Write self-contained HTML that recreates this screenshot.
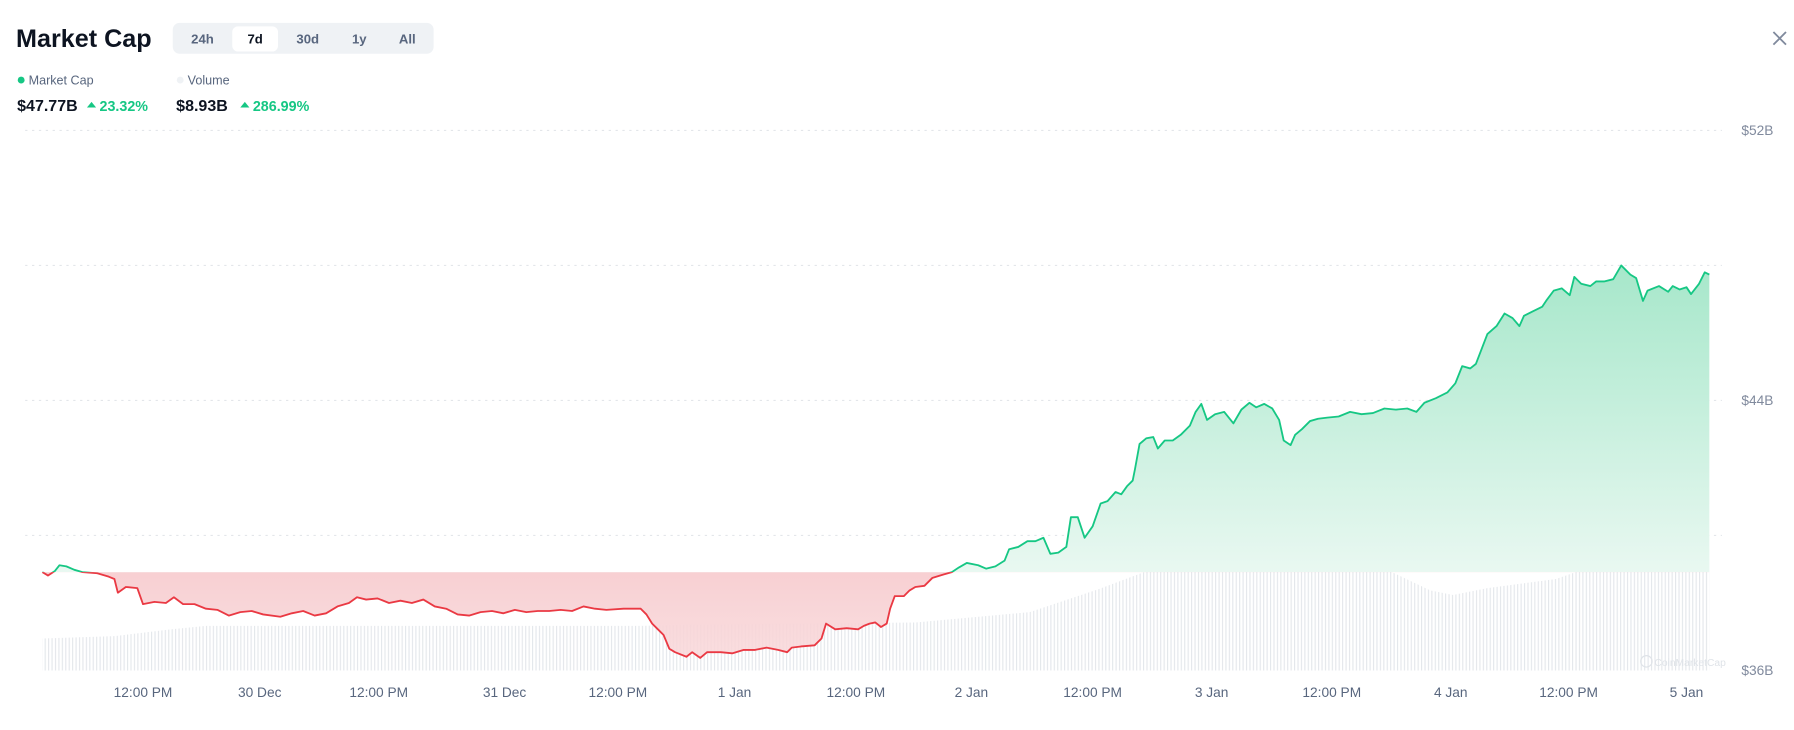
<!DOCTYPE html>
<html><head><meta charset="utf-8"><style>
html,body{margin:0;padding:0;background:#fff;width:1794px;height:730px;overflow:hidden}
svg{display:block}
text{font-family:"Liberation Sans",Arial,sans-serif}
</style></head><body>
<svg width="1794" height="730" viewBox="0 0 1568 638" preserveAspectRatio="none" xmlns="http://www.w3.org/2000/svg" xmlns:xlink="http://www.w3.org/1999/xlink">
<defs>
<linearGradient id="gg" x1="0" y1="230" x2="0" y2="500" gradientUnits="userSpaceOnUse">
<stop offset="0" stop-color="#a6e7ca"/><stop offset="1" stop-color="#e9f8f1"/></linearGradient>
<linearGradient id="rg" x1="0" y1="500" x2="0" y2="580" gradientUnits="userSpaceOnUse">
<stop offset="0" stop-color="#f7cdd0" stop-opacity="0.95"/><stop offset="1" stop-color="#f9d9db" stop-opacity="0.85"/></linearGradient>
<pattern id="bars" width="3" height="10" patternUnits="userSpaceOnUse"><rect x="0" y="0" width="1" height="10" fill="#e4e7eb"/></pattern>
<clipPath id="above"><rect x="0" y="0" width="1568" height="500"/></clipPath>
<clipPath id="below"><rect x="0" y="500" width="1568" height="200"/></clipPath>
<path id="ar" d="M37 500 L37,500 42,503 48,499 52,494 58,495 65,498 72,500 85,501 95,504 100,506 103,518 110,513 120,514 125,528 135,526 145,527 152,522 160,528 170,528 180,532 190,533 200,538 210,535 220,534 230,537 245,539 255,536 265,534 275,538 285,536 295,530 305,527 312,522 320,524 330,523 340,527 350,525 360,527 370,524 380,530 390,532 400,537 410,538 420,535 430,534 440,536 450,533 460,535 470,534 480,534 490,533 500,534 510,530 520,532 530,533 545,532 560,532 565,537 570,545 575,550 580,555 585,567 590,570 600,574 605,570 612,575 618,570 630,570 640,571 650,568 660,568 670,566 680,568 688,570 692,566 700,565 712,564 718,558 722,545 730,550 740,549 750,550 755,547 760,545 765,544 770,548 775,545 778,532 782,521 790,521 795,516 800,513 808,512 815,505 825,502 832,500 838,496 845,492 855,494 862,497 870,495 878,490 882,480 890,478 898,473 905,473 912,470 918,484 925,483 932,478 936,452 942,452 948,470 955,460 962,440 968,438 975,430 980,432 985,425 990,420 992,410 996,388 1002,383 1008,382 1012,392 1018,385 1025,385 1032,380 1040,372 1045,360 1050,353 1055,367 1062,362 1070,360 1078,370 1085,358 1092,352 1098,356 1105,353 1112,357 1118,367 1122,385 1128,389 1132,380 1138,375 1145,368 1152,366 1160,365 1170,364 1180,360 1190,362 1200,361 1210,357 1220,358 1230,357 1238,360 1245,352 1255,348 1265,343 1272,335 1278,320 1285,322 1290,318 1295,305 1300,292 1308,285 1315,274 1322,278 1328,285 1332,276 1340,272 1348,268 1352,262 1358,254 1365,252 1372,258 1376,242 1382,248 1390,250 1395,246 1402,246 1410,244 1417,232 1425,240 1430,243 1436,263 1440,254 1450,250 1458,255 1462,250 1468,253 1474,251 1478,257 1485,248 1490,238 1494,240 L1494 500Z"/>
<path id="ln" d="M37,500 42,503 48,499 52,494 58,495 65,498 72,500 85,501 95,504 100,506 103,518 110,513 120,514 125,528 135,526 145,527 152,522 160,528 170,528 180,532 190,533 200,538 210,535 220,534 230,537 245,539 255,536 265,534 275,538 285,536 295,530 305,527 312,522 320,524 330,523 340,527 350,525 360,527 370,524 380,530 390,532 400,537 410,538 420,535 430,534 440,536 450,533 460,535 470,534 480,534 490,533 500,534 510,530 520,532 530,533 545,532 560,532 565,537 570,545 575,550 580,555 585,567 590,570 600,574 605,570 612,575 618,570 630,570 640,571 650,568 660,568 670,566 680,568 688,570 692,566 700,565 712,564 718,558 722,545 730,550 740,549 750,550 755,547 760,545 765,544 770,548 775,545 778,532 782,521 790,521 795,516 800,513 808,512 815,505 825,502 832,500 838,496 845,492 855,494 862,497 870,495 878,490 882,480 890,478 898,473 905,473 912,470 918,484 925,483 932,478 936,452 942,452 948,470 955,460 962,440 968,438 975,430 980,432 985,425 990,420 992,410 996,388 1002,383 1008,382 1012,392 1018,385 1025,385 1032,380 1040,372 1045,360 1050,353 1055,367 1062,362 1070,360 1078,370 1085,358 1092,352 1098,356 1105,353 1112,357 1118,367 1122,385 1128,389 1132,380 1138,375 1145,368 1152,366 1160,365 1170,364 1180,360 1190,362 1200,361 1210,357 1220,358 1230,357 1238,360 1245,352 1255,348 1265,343 1272,335 1278,320 1285,322 1290,318 1295,305 1300,292 1308,285 1315,274 1322,278 1328,285 1332,276 1340,272 1348,268 1352,262 1358,254 1365,252 1372,258 1376,242 1382,248 1390,250 1395,246 1402,246 1410,244 1417,232 1425,240 1430,243 1436,263 1440,254 1450,250 1458,255 1462,250 1468,253 1474,251 1478,257 1485,248 1490,238 1494,240" fill="none" stroke-width="1.6" stroke-linejoin="round"/>
</defs>
<text x="14" y="41" font-size="22" font-weight="700" fill="#0d1421">Market Cap</text>
<rect x="151" y="20" width="228" height="27" rx="6" fill="#eff2f5"/>
<rect x="203" y="23" width="40" height="22" rx="5" fill="#fff"/>
<g font-size="11.5" font-weight="700" fill="#58667e" text-anchor="middle">
<text x="177" y="38">24h</text><text x="223" y="38" fill="#0d1421">7d</text><text x="269" y="38">30d</text><text x="314" y="38">1y</text><text x="356" y="38">All</text></g>
<path d="M1550 28 L1561 39 M1561 28 L1550 39" stroke="#808a9d" stroke-width="1.6"/>
<circle cx="18.5" cy="70" r="3" fill="#16c784"/>
<text x="25" y="74" font-size="11" fill="#58667e">Market Cap</text>
<circle cx="157.5" cy="70" r="3" fill="#eff2f5"/>
<text x="164" y="74" font-size="11" fill="#58667e">Volume</text>
<text x="15" y="97" font-size="14" font-weight="700" fill="#0d1421">$47.77B</text>
<path d="M76 94 L80 89 L84 94Z" fill="#16c784"/>
<text x="87" y="97" font-size="12.5" font-weight="700" fill="#16c784">23.32%</text>
<text x="154" y="97" font-size="14" font-weight="700" fill="#0d1421">$8.93B</text>
<path d="M210 94 L214 89 L218 94Z" fill="#16c784"/>
<text x="221" y="97" font-size="12.5" font-weight="700" fill="#16c784">286.99%</text>
<g stroke="#e3e6ea" stroke-width="1" stroke-dasharray="2,4">
<line x1="22" y1="114" x2="1505" y2="114"/><line x1="22" y1="232" x2="1505" y2="232"/><line x1="22" y1="350" x2="1505" y2="350"/><line x1="22" y1="468" x2="1505" y2="468"/></g>
<g font-size="12" fill="#808a9d" text-anchor="end"><text x="1550" y="118">$52B</text><text x="1550" y="354">$44B</text><text x="1550" y="590">$36B</text></g>
<path d="M37 586 L37 558 L100 556 L150 550 L180 547 L560 547 L600 546 L800 544 L900 535 L960 515 L1000 500 L1050 492 L1150 486 L1200 492 L1250 516 L1270 520 L1300 514 L1360 506 L1400 492 L1450 484 L1494 480 L1494 586Z" fill="url(#bars)"/>
<g clip-path="url(#above)"><use xlink:href="#ar" fill="url(#gg)"/></g>
<g clip-path="url(#below)"><use xlink:href="#ar" fill="url(#rg)"/></g>
<g clip-path="url(#above)"><use xlink:href="#ln" stroke="#16c784"/></g>
<g clip-path="url(#below)"><use xlink:href="#ln" stroke="#ea3943"/></g>
<text x="1446" y="582" font-size="9" fill="#dfe3e8">CoinMarketCap</text>
<circle cx="1439" cy="578" r="5" fill="none" stroke="#dfe3e8" stroke-width="1"/>
<g font-size="12" fill="#58667e" text-anchor="middle">
<text x="125" y="609">12:00 PM</text><text x="227" y="609">30 Dec</text><text x="331" y="609">12:00 PM</text><text x="441" y="609">31 Dec</text><text x="540" y="609">12:00 PM</text><text x="642" y="609">1 Jan</text><text x="748" y="609">12:00 PM</text><text x="849" y="609">2 Jan</text><text x="955" y="609">12:00 PM</text><text x="1059" y="609">3 Jan</text><text x="1164" y="609">12:00 PM</text><text x="1268" y="609">4 Jan</text><text x="1371" y="609">12:00 PM</text><text x="1474" y="609">5 Jan</text></g>
</svg>
</body></html>
